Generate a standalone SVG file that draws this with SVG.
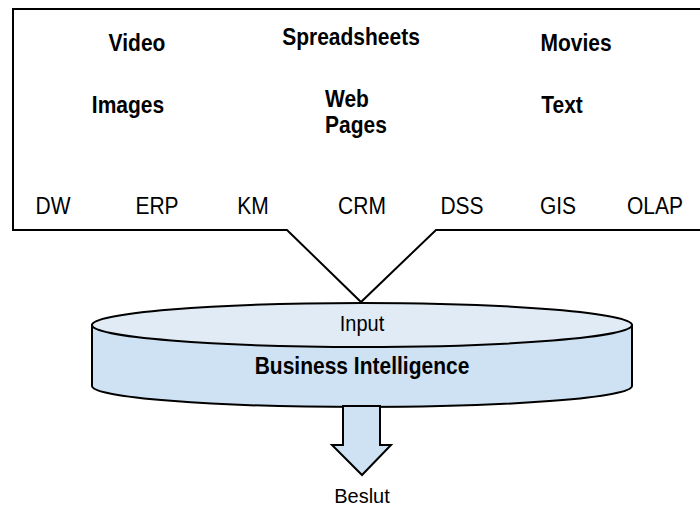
<svg xmlns="http://www.w3.org/2000/svg" width="700" height="508" viewBox="0 0 700 508">
<style>
.b{font-family:"Liberation Sans",Arial,sans-serif;font-weight:bold;font-size:21px;fill:#000;text-anchor:middle}
.r{font-family:"Liberation Sans",Arial,sans-serif;font-size:21px;fill:#000;text-anchor:middle}
.s{text-anchor:start}
.ln{fill:#fff;stroke:#000;stroke-width:2}
.cyl{stroke:#000;stroke-width:2}
</style>
<rect width="700" height="508" fill="#fff"/>
<g id="callout">
<path class="ln" d="M702,9 H13 V230 H287 L361,302 L436,230 H702"/>
<text class="b" transform="translate(137,51) scale(1,1.1)">Video</text>
<text class="b" transform="translate(351,45) scale(1,1.1)">Spreadsheets</text>
<text class="b" transform="translate(576,51) scale(1,1.1)">Movies</text>
<text class="b" transform="translate(128,113) scale(1,1.1)">Images</text>
<text class="b s" transform="translate(325,107) scale(1,1.1)">Web</text>
<text class="b s" transform="translate(325,133) scale(1,1.1)">Pages</text>
<text class="b" transform="translate(562,113) scale(1,1.1)">Text</text>
<text class="r" transform="translate(53,214) scale(1,1.1)">DW</text>
<text class="r" transform="translate(157,214) scale(1,1.1)">ERP</text>
<text class="r" transform="translate(253,214) scale(1,1.1)">KM</text>
<text class="r" transform="translate(362,214) scale(1,1.1)">CRM</text>
<text class="r" transform="translate(462,214) scale(1,1.1)">DSS</text>
<text class="r" transform="translate(558,214) scale(1,1.1)">GIS</text>
<text class="r" transform="translate(655,214) scale(1,1.1)">OLAP</text>
</g>
<g id="bi">
<path class="cyl" d="M92,325 V386 A270,21 0 0 0 632,386 V325 Z" fill="#cfe2f3"/>
<ellipse class="cyl" cx="362" cy="325" rx="270" ry="22" fill="#e1ebf6"/>
<text class="r" transform="translate(362,331) scale(1,1.1)" style="font-size:20px">Input</text>
<text class="b" transform="translate(362,374) scale(1,1.1)">Business Intelligence</text>
</g>
<g id="arrow">
<path d="M343,406 V445 H332 L362,475 L391,445 H380 V406 Z" fill="#cfe2f3" stroke="#000" stroke-width="2"/>
</g>
<g id="beslut">
<text class="r" transform="translate(362,503) scale(1,1.05)" style="font-size:20px">Beslut</text>
</g>
</svg>
